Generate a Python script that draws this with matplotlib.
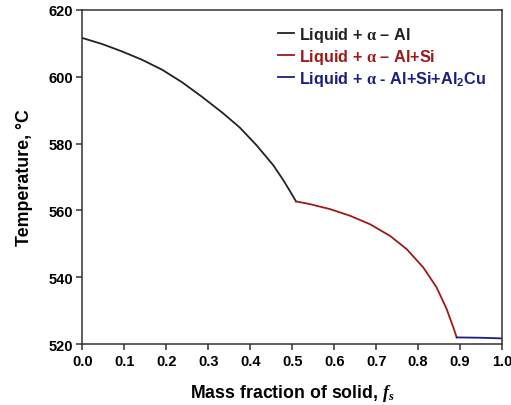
import numpy as np
import matplotlib.pyplot as plt

plt.rcParams['font.family'] = ['Liberation Sans', 'DejaVu Sans']
plt.rcParams['font.weight'] = 'bold'
plt.rcParams['mathtext.fontset'] = 'custom'
plt.rcParams['mathtext.rm'] = 'Liberation Serif'
plt.rcParams['mathtext.it'] = 'Liberation Serif:italic:bold'
plt.rcParams['mathtext.sf'] = 'Liberation Sans:bold'

# Liquid + alpha-Al
fs_al = [0.0, 0.047, 0.094, 0.142, 0.19, 0.237, 0.285, 0.336, 0.375, 0.415, 0.455, 0.479, 0.495, 0.509]
t_al = [611.6, 609.8, 607.6, 605.1, 602.1, 598.4, 594.0, 589.0, 584.8, 579.5, 573.5, 569.0, 565.7, 562.7]

# Liquid + alpha-Al + Si
fs_si = [0.509, 0.542, 0.59, 0.638, 0.685, 0.733, 0.773, 0.812, 0.844, 0.868, 0.884, 0.892]
t_si = [562.7, 561.9, 560.4, 558.4, 555.9, 552.4, 548.4, 543.0, 537.0, 530.5, 525.0, 522.0]

# Liquid + alpha-Al + Si + Al2Cu
fs_cu = [0.892, 0.95, 1.0]
t_cu = [522.0, 521.9, 521.7]

labels = [r'Liquid + $\mathrm{\alpha}$ – Al',
          r'Liquid + $\mathrm{\alpha}$ – Al+Si',
          r'Liquid + $\mathrm{\alpha}$ - Al+Si+Al$_\mathsf{2}$Cu']
colors = ['#222222', '#a01818', '#1a1f80']

fig = plt.figure(figsize=(5.11, 4.06), dpi=100)
ax = fig.add_axes([0.1614, 0.150, 0.821, 0.823])

ax.plot(fs_al, t_al, color=colors[0], lw=1.3, label=labels[0])
ax.plot(fs_si, t_si, color=colors[1], lw=1.3, label=labels[1])
ax.plot(fs_cu, t_cu, color=colors[2], lw=1.3, label=labels[2])

ax.set_xlim(0, 1)
ax.set_ylim(520, 620)
ax.set_xticks(np.arange(0, 1.01, 0.1))
ax.set_xticklabels([f'{v:.1f}' for v in np.arange(0, 1.01, 0.1)])
ax.set_yticks(np.arange(520, 621, 20))
ax.tick_params(direction='out', length=4, width=1.1, labelsize=10.5, pad=3,
               color='#333333')
for lab in ax.get_xticklabels() + ax.get_yticklabels():
    lab.set_fontweight('bold')
for sp in ax.spines.values():
    sp.set_linewidth(1.1)
    sp.set_color('#333333')

ax.set_xlabel(r'Mass fraction of solid, $f_s$', fontsize=12.8, fontweight='bold', labelpad=10)
ax.set_ylabel('Temperature, °C', fontsize=12.8, fontweight='bold', labelpad=11)

leg = ax.legend(loc='upper right', frameon=False, fontsize=11.7, handlelength=1.0,
                handletextpad=0.3, labelspacing=0.2, borderaxespad=0.5,
                bbox_to_anchor=(0.997, 1.0))
for txt, c in zip(leg.get_texts(), colors):
    txt.set_color(c)

fig.savefig('out.png', dpi=100)
